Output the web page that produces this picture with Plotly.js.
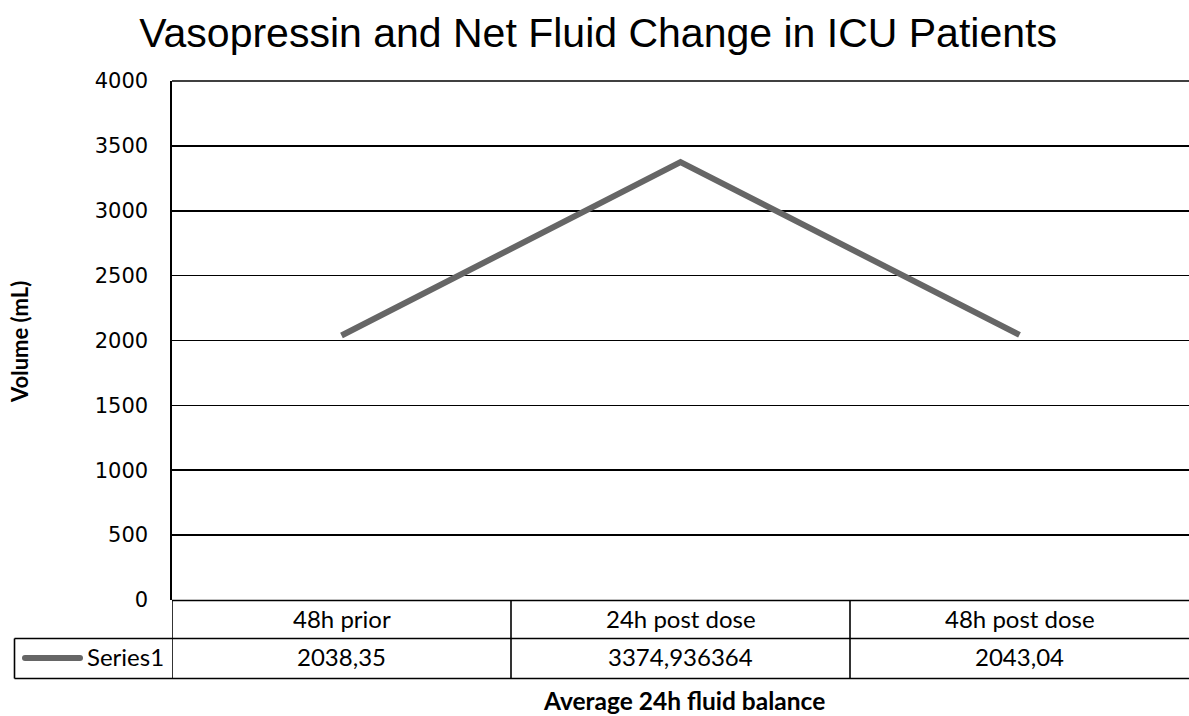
<!DOCTYPE html>
<html>
<head>
<meta charset="utf-8">
<script src="https://cdn.plot.ly/plotly-3.0.1.min.js"></script>
<style>html,body{margin:0;padding:0;background:#fff;}#chart{width:1189px;height:716px;}</style>
</head>
<body>
<div id="chart"></div>
<script>
const categories = ["48h prior", "24h post dose", "48h post dose"];
const values = [2038.35, 3374.936364, 2043.04];
const seriesName = "Series1";
const yTicks = [0, 500, 1000, 1500, 2000, 2500, 3000, 3500, 4000];

const W = 1189, H = 716;
const L = 172, R = 0, T = 81, B = 116;
const plotW = W - L - R, plotH = H - T - B;
const px = x => (x - L) / plotW;
const py = y => (H - B - y) / plotH;

const tableFont = {family: "Lato, sans-serif", size: 24, color: "#000"};
const lineColor = "#666666";

const shapes = [];
const blk = {color: "#000", width: 1.6};
// top border line (4000)
shapes.push({type: "line", xref: "paper", yref: "paper", x0: 0, x1: 1, y0: 1, y1: 1, line: blk});
// horizontal table lines
shapes.push({type: "line", xref: "paper", yref: "paper", x0: 0, x1: 1, y0: py(600.5), y1: py(600.5), line: blk});
shapes.push({type: "line", xref: "paper", yref: "paper", x0: px(14.5), x1: 1, y0: py(638.5), y1: py(638.5), line: blk});
shapes.push({type: "line", xref: "paper", yref: "paper", x0: px(14.5), x1: 1, y0: py(678.5), y1: py(678.5), line: blk});
// vertical table dividers between categories
for (let i = 0; i < categories.length; i++) {
  shapes.push({type: "line", xref: "x", yref: "paper", x0: i - 0.5, x1: i - 0.5, y0: py(600), y1: py(678.5), line: blk});
}
// legend cell left border
shapes.push({type: "line", xref: "paper", yref: "paper", x0: px(14.5), x1: px(14.5), y0: py(638.5), y1: py(678.5), line: blk});
// legend key line with rounded ends
shapes.push({type: "line", xref: "paper", yref: "paper", x0: px(25), x1: px(80), y0: py(658), y1: py(658), line: {color: lineColor, width: 6}});
[25, 80].forEach(cx => {
  shapes.push({type: "circle", xref: "paper", yref: "paper", x0: px(cx - 3), x1: px(cx + 3), y0: py(661), y1: py(655), fillcolor: lineColor, line: {width: 0}});
});

const annotations = [];
categories.forEach((c, i) => {
  annotations.push({x: i, xref: "x", y: py(618), yref: "paper", text: c, showarrow: false, font: tableFont, xanchor: "center", yanchor: "middle"});
  annotations.push({x: i, xref: "x", y: py(657), yref: "paper", text: String(values[i]).replace(".", ","), showarrow: false, font: tableFont, xanchor: "center", yanchor: "middle"});
});
annotations.push({x: px(166), xref: "paper", y: py(657), yref: "paper", text: seriesName, showarrow: false, font: tableFont, xanchor: "right", yanchor: "middle"});
annotations.push({x: px(684), xref: "paper", y: py(700), yref: "paper", text: "<b>Average 24h fluid balance</b>", showarrow: false, font: {family: "Lato, sans-serif", size: 24.5, color: "#000"}, xanchor: "center", yanchor: "middle"});
annotations.push({x: px(19), xref: "paper", y: py(342), yref: "paper", text: "<b>Volume (mL)</b>", textangle: -90, showarrow: false, font: {family: "Lato, sans-serif", size: 22, color: "#000"}, xanchor: "center", yanchor: "middle"});

const trace = {
  x: categories.map((c, i) => i),
  y: values,
  type: "scatter",
  mode: "lines",
  name: seriesName,
  line: {color: lineColor, width: 6},
  hoverinfo: "skip"
};

const layout = {
  width: W, height: H,
  margin: {l: L, r: R, t: T, b: B, pad: 0},
  paper_bgcolor: "#fff", plot_bgcolor: "#fff",
  showlegend: false,
  title: {text: "Vasopressin and Net Fluid Change in ICU Patients", font: {family: "Liberation Sans, Arial, sans-serif", size: 41, color: "#000"}, x: 0.503, xanchor: "center", y: 1 - 33 / H, yanchor: "middle"},
  xaxis: {range: [-0.5, 2.5], showticklabels: false, showgrid: false, zeroline: false, showline: false, fixedrange: true},
  yaxis: {range: [0, 4000], tickvals: yTicks, ticktext: yTicks.map(String), showgrid: true, gridcolor: "#000", gridwidth: 1.6, zeroline: false, showline: true, linecolor: "#000", linewidth: 1.6, ticks: "", ticklabelstandoff: 18, tickfont: {family: "DejaVu Sans, sans-serif", size: 21, color: "#000"}, fixedrange: true},
  shapes: shapes,
  annotations: annotations
};

Plotly.newPlot("chart", [trace], layout, {staticPlot: true, displayModeBar: false});
</script>
</body>
</html>
